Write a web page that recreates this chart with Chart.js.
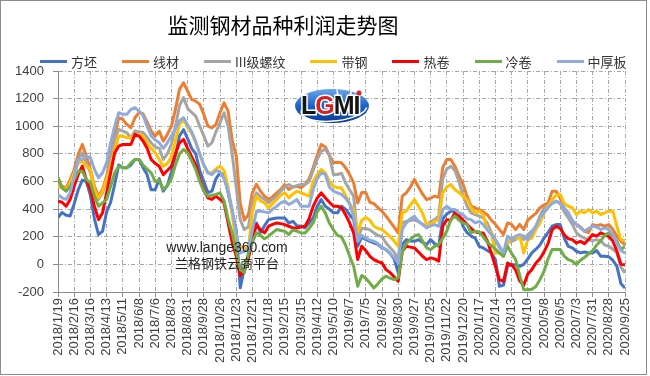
<!DOCTYPE html>
<html lang="zh">
<head>
<meta charset="UTF-8">
<title>监测钢材品种利润走势图</title>
<script src="https://cdn.jsdelivr.net/npm/chart.js"></script>
<style>
  body { margin: 0; background: #fff; }
  #wrap { position: relative; width: 650px; height: 376px; overflow: hidden; }
  #c { position: absolute; left: 0; top: 0; }
  #frame { position: absolute; left: 0; top: 0; width: 645px; height: 373px; border: 1px solid #8c8c8c; pointer-events: none; }
  #title { position: absolute; left: 0; top: 12px; width: 566px; text-align: center;
           font: 21px "Noto Sans CJK SC"; line-height: 24px; color: #000; }
  #legend { position: absolute; left: 40px; top: 53px; width: 610px; display: flex; white-space: nowrap;
            font: 13px "Noto Sans CJK SC"; line-height: 17px; color: #333; }
  .item { display: flex; align-items: center; margin-right: 25px; flex: 0 0 auto; }
  .swatch { width: 27px; height: 3px; margin-right: 4px; flex: 0 0 auto; }
  .mark { position: absolute; left: 127px; width: 200px; text-align: center; color: #222; }
</style>
</head>
<body>
<div id="wrap">
  <canvas id="c" width="650" height="376"></canvas>
  <div id="title">监测钢材品种利润走势图</div>
  <div id="legend"></div>
  <div class="mark" style="top:239px; font: 14px 'Liberation Sans'; line-height:16px;">www.lange360.com</div>
  <div class="mark" style="top:255px; font: 13px 'Noto Sans CJK SC'; line-height:16px;">兰格钢铁云商平台</div>
  <div id="frame"></div>
</div>

<script>
// 每4周一个刻度标签
const tickLabels = ['2018/1/19','2018/2/16','2018/3/16','2018/4/13','2018/5/11','2018/6/8','2018/7/6','2018/8/3',
  '2018/8/31','2018/9/28','2018/10/26','2018/11/23','2018/12/21','2019/1/18','2019/2/15','2019/3/15','2019/4/12',
  '2019/5/10','2019/6/7','2019/7/5','2019/8/2','2019/8/30','2019/9/27','2019/10/25','2019/11/22','2019/12/20',
  '2020/1/17','2020/2/14','2020/3/13','2020/4/10','2020/5/8','2020/6/5','2020/7/3','2020/7/31','2020/8/28','2020/9/25'];

const seriesNames = ['方坯', '线材', 'III级螺纹', '带钢', '热卷', '冷卷', '中厚板'];
const seriesColors = ['#4472C4', '#ED7D31', '#A5A5A5', '#FFC000', '#FF0000', '#70AD47', '#8FAADC'];

// 周度利润 (元/吨)
const fangpi = [340, 375, 355, 350, 440, 540, 610, 600, 500, 330, 215, 240, 380, 450, 580, 720, 700, 700, 720, 760, 760, 700, 650,
  540, 540, 620, 530, 570, 670, 790, 930, 975, 910, 840, 800, 680, 600, 520, 530, 620, 660, 650, 520, 380, 250, -170, -30, 60,
  200, 300, 230, 280, 324, 330, 336, 336, 336, 300, 312, 280, 276, 264, 300, 336, 420, 469, 421, 400, 373, 373, 420, 400, 360,
  324, 131, 200, 180, 167, 155, 145, 120, 107, 80, 40, -62, 143, 179, 170, 167, 179, 160, 143, 179, 150, 131, 330, 365,
  385, 385, 370, 276, 230, 204, 190, 130, 119, 100, 83, 35, -159, -150, -14, 0, -5, -14, 0, 40, 83, 110,
  140, 190, 230, 276, 288, 288, 190, 131, 120, 95, 83, 90, 83, 83, 100, 59, 59, 55, 30, -14, -140, -171];

const xiancai = [598, 566, 554, 614, 687, 796, 868, 784, 687, 566, 494, 542, 639, 784, 929, 1062, 1050, 1013, 989, 1062, 1098, 1090, 1030,
  965, 929, 965, 892, 941, 1001, 1122, 1267, 1315, 1255, 1195, 1182, 1158, 1086, 1001, 989, 1013, 1098, 1170, 1110, 900, 790, 440, 320, 360,
  520, 580, 530, 494, 470, 490, 518, 542, 578, 542, 560, 566, 554, 578, 620, 700, 790, 868, 850, 790, 735, 740, 735, 700, 650,
  590, 445, 520, 520, 450, 440, 410, 385, 349, 310, 270, 228, 494, 518, 560, 615, 560, 510, 469, 480, 494, 485, 700, 760,
  760, 711, 640, 580, 494, 421, 409, 397, 380, 360, 320, 290, 252, 216, 300, 290, 252, 290, 252, 320, 345, 370,
  410, 430, 445, 530, 530, 480, 400, 373, 300, 290, 270, 240, 230, 288, 280, 288, 276, 288, 252, 204, 167, 143];

const luowen = [578, 554, 530, 566, 651, 760, 808, 735, 663, 542, 470, 518, 614, 760, 905, 977, 965, 953, 917, 965, 960, 955, 920,
  880, 850, 840, 760, 800, 870, 1000, 1150, 1207, 1130, 1100, 1074, 1000, 930, 856, 880, 960, 1025, 1098, 1001, 800, 560, 324, 252, 270,
  450, 518, 490, 470, 445, 470, 494, 530, 560, 578, 560, 570, 578, 578, 600, 680, 760, 820, 832, 790, 651, 651, 660, 590, 540,
  494, 190, 260, 260, 250, 228, 210, 200, 155, 120, 90, 35, 300, 312, 318, 324, 310, 290, 276, 310, 324, 349, 620, 690,
  711, 680, 600, 500, 421, 373, 360, 350, 336, 300, 230, 179, 131, 83, 155, 167, 179, 204, 179, 215, 240, 276,
  349, 409, 420, 440, 457, 440, 380, 336, 290, 230, 204, 190, 179, 170, 179, 170, 140, 131, 110, 83, -20, -62];

const daigang = [566, 554, 542, 590, 663, 735, 747, 711, 687, 542, 482, 530, 614, 711, 832, 929, 929, 917, 917, 941,
  941, 930, 880, 840, 810, 760, 711, 730, 780, 900, 1010, 1050, 990, 950, 880, 800, 720, 663, 663, 690, 711, 680, 560, 360, 160, 130, 120, 110,
  380, 494, 460, 445, 409, 440, 470, 500, 518, 482, 510, 530, 518, 505, 494, 600, 650, 687, 663, 600, 566, 554, 554, 500, 440,
  397, 228, 320, 340, 320, 276, 260, 252, 228, 200, 170, 131, 373, 385, 430, 469, 421, 370, 290, 290, 310, 324, 518, 560,
  578, 542, 520, 494, 469, 409, 373, 385, 361, 252, 228, 83, 83, 59, 155, 191, 190, 204, 83, 179, 191, 252,
  300, 370, 420, 469, 500, 506, 440, 421, 410, 361, 385, 373, 397, 373, 385, 361, 373, 385, 385, 276, 179, 170];

const rejuan = [457, 450, 421, 470, 566, 651, 711, 614, 542, 421, 324, 373, 518, 663, 808, 856, 868, 868, 868, 941,
  929, 893, 840, 760, 730, 710, 650, 680, 710, 800, 880, 905, 840, 780, 720, 620, 540, 482, 470, 494, 470, 445, 300, 160, 60, -80, -50, 40,
  180, 288, 250, 228, 276, 290, 300, 295, 288, 276, 264, 264, 270, 276, 330, 420, 480, 518, 482, 450, 421, 421, 410, 360, 300,
  228, 35, 131, 100, 59, 35, 20, 10, -38, -60, -90, -123, 95, 131, 125, 119, 90, 60, 35, 47, 40, 23, 276, 324,
  320, 373, 349, 320, 290, 260, 235, 228, 228, 170, 80, -14, -111, -123, 10, -5, -40, -120, -150, -70, -38, 10,
  40, 90, 150, 250, 276, 260, 215, 185, 179, 155, 167, 150, 180, 216, 204, 228, 216, 200, 170, 95, 0, -2];

const lengjuan = [630, 554, 530, 566, 614, 675, 675, 614, 590, 494, 421, 445, 470, 566, 663, 711, 699, 699, 735, 760,
  760, 720, 690, 663, 600, 610, 542, 570, 620, 720, 800, 832, 808, 750, 687, 600, 530, 494, 500, 506, 518, 460, 330, 228, 100, -38, -60, 80,
  160, 228, 210, 185, 204, 230, 252, 245, 240, 216, 250, 240, 228, 228, 260, 300, 380, 421, 373, 300, 250, 210, 200, 140, 60,
  -14, -158, -80, -100, -135, -171, -140, -105, -86, -100, -111, -98, 95, 150, 180, 204, 216, 170, 120, 107, 131, 143, 190, 240,
  324, 349, 320, 300, 288, 228, 240, 235, 200, 160, 135, 110, 83, 59, 131, 80, 35, -80, -183, -183, -180, -160,
  -111, -50, 40, 107, 107, 107, 60, 35, 23, 0, 30, 50, 75, 100, 140, 170, 210, 228, 204, 167, 107, 131];

const zhonghouban = [506, 482, 470, 518, 639, 760, 760, 784, 772, 687, 627, 663, 735, 880, 1001, 1098, 1086, 1086, 1122, 1134,
  1110, 1080, 1000, 930, 900, 880, 840, 880, 930, 980, 1040, 1062, 1010, 960, 890, 800, 720, 663, 650, 680, 670, 620, 530, 400, 228, 83, 95, 110,
  250, 385, 385, 380, 373, 400, 421, 445, 457, 433, 450, 469, 421, 421, 421, 540, 620, 663, 651, 560, 530, 518, 506, 480, 440,
  349, 167, 210, 190, 175, 167, 150, 125, 107, 80, 50, 10, 252, 300, 330, 349, 310, 290, 264, 280, 288, 276, 397, 421,
  400, 397, 373, 360, 330, 324, 300, 312, 288, 250, 215, 179, 120, 83, 204, 180, 204, 216, 204, 179, 228, 276,
  340, 375, 410, 445, 457, 445, 410, 373, 320, 290, 264, 240, 260, 276, 270, 252, 264, 252, 215, 150, 100, 83];

const allSeries = [fangpi, xiancai, luowen, daigang, rejuan, lengjuan, zhonghouban];

// 图例
const legendBox = document.getElementById('legend');
seriesNames.forEach((name, k) => {
  const item = document.createElement('div');
  item.className = 'item';
  item.innerHTML = '<span class="swatch" style="background:' + seriesColors[k] + '"></span>' + name;
  legendBox.appendChild(item);
});

// LGMI 标志
const logoPlugin = {
  id: 'logo',
  beforeDatasetsDraw(chart) {
    const c = chart.ctx;
    const cx = 332, cy = 106;
    c.save();
    const g = c.createLinearGradient(0, cy - 17, 0, cy + 17);
    g.addColorStop(0, '#6aa6ec');
    g.addColorStop(0.5, '#1d62c8');
    g.addColorStop(1, '#0a3a96');
    c.fillStyle = g;
    c.beginPath();
    c.ellipse(cx, cy, 37, 17, 0, 0, Math.PI * 2);
    c.fill();
    c.strokeStyle = '#ffffff';
    c.lineWidth = 1.5;
    c.beginPath();
    c.ellipse(cx + 2, cy + 3, 33, 12, -0.1, 0.15, Math.PI * 1.05);
    c.stroke();
    c.font = 'bold 25px "Liberation Sans"';
    c.textBaseline = 'middle';
    const letters = [['L', '#151515'], ['G', '#d42020'], ['M', '#151515'], ['I', '#151515']];
    let x = 301;
    letters.forEach(([ch, col]) => {
      c.lineWidth = 3;
      c.strokeStyle = '#ffffff';
      c.strokeText(ch, x, cy + 1);
      c.fillStyle = col;
      c.fillText(ch, x, cy + 1);
      x += c.measureText(ch).width - 1;
    });
    c.fillStyle = '#e02020';
    c.beginPath();
    c.arc(359, 93, 2.5, 0, Math.PI * 2);
    c.fill();
    c.restore();
  }
};

const gridColor = '#a6a6a6';
const axisColor = '#8c8c8c';
const tickFont = { family: 'Liberation Sans', size: 13 };

new Chart(document.getElementById('c'), {
  type: 'line',
  data: {
    datasets: allSeries.map((values, k) => ({
      label: seriesNames[k],
      data: values.map((v, i) => ({ x: i, y: v })),
      borderColor: seriesColors[k],
      backgroundColor: seriesColors[k],
      borderWidth: 3,
      pointRadius: 0,
      tension: 0,
      borderJoinStyle: 'round',
      order: allSeries.length - 1 - k
    }))
  },
  options: {
    responsive: false,
    animation: false,
    events: [],
    layout: { padding: { left: 0, right: 25, top: 71, bottom: 10 } },
    plugins: {
      legend: { display: false },
      title: { display: false },
      tooltip: { enabled: false }
    },
    scales: {
      x: {
        type: 'linear',
        min: 0,
        max: 140,
        ticks: {
          stepSize: 4,
          autoSkip: false,
          minRotation: 90,
          maxRotation: 90,
          padding: 1,
          color: '#404040',
          font: tickFont,
          callback: (v) => tickLabels[v / 4]
        },
        grid: { color: gridColor, lineWidth: 1, tickLength: 5, tickColor: axisColor },
        border: { display: true, color: axisColor, width: 1, dash: [4, 2, 1, 2] },
        afterFit: (s) => { s.height = 74; }
      },
      y: {
        min: -200,
        max: 1400,
        ticks: {
          stepSize: 200,
          padding: 9,
          color: '#404040',
          font: tickFont,
          callback: (v) => String(v)
        },
        grid: { color: gridColor, lineWidth: 1, tickLength: 5, tickColor: axisColor },
        border: { display: true, color: axisColor, width: 1, dash: [4, 2, 1, 2] },
        afterFit: (s) => { s.width = 58; }
      }
    }
  },
  plugins: [logoPlugin]
});
</script>
</body>
</html>
